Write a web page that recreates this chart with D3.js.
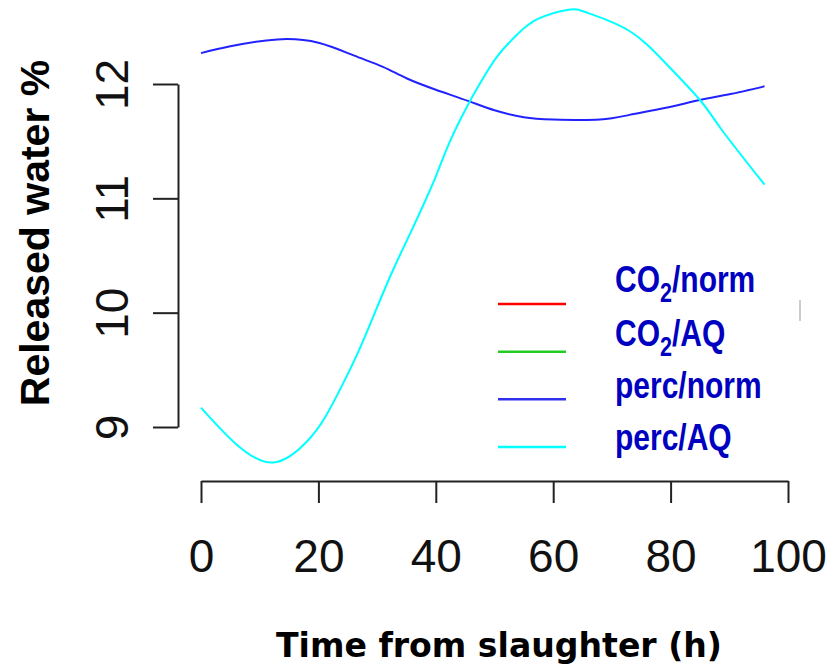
<!DOCTYPE html>
<html>
<head>
<meta charset="utf-8">
<script src="https://cdn.jsdelivr.net/npm/d3@7"></script>
<style>
  body { margin: 0; background: #fff; }
  svg { display: block; }
</style>
</head>
<body>
<div id="chart"></div>
<script>
// time after slaughter (h)
var hours = [0, 5, 13, 20, 26, 31, 35, 40, 45.6, 50, 55, 60, 68, 73, 79, 85, 90, 96];
var percNorm = [12.27, 12.33, 12.39, 12.36, 12.25, 12.15, 12.05, 11.95, 11.85, 11.77, 11.71, 11.69, 11.69, 11.73, 11.79, 11.86, 11.91, 11.98];

var hoursAQ = [0, 6, 12.3, 17.8, 21.2, 24.3, 26.9, 29.7, 32.6, 35.7, 38.3, 40.3, 42.6, 45.6, 47.7, 50.6, 54, 57.4, 62.6, 66, 72.8, 79, 85, 88.7, 96];
var percAQ = [9.17, 8.85, 8.69, 8.86, 9.09, 9.39, 9.67, 10.01, 10.36, 10.70, 10.99, 11.23, 11.52, 11.83, 12.02, 12.25, 12.44, 12.57, 12.65, 12.62, 12.47, 12.19, 11.86, 11.6, 11.12];

var xTicks = [0, 20, 40, 60, 80, 100];
var yTicks = [9, 10, 11, 12];

var legendNames = ["CO2/norm", "CO2/AQ", "perc/norm", "perc/AQ"];
var legendColors = ["#ff0000", "#22cc22", "#3030ee", "#00ffff"];

var width = 826, height = 667;

var svg = d3.select("#chart").append("svg")
    .attr("width", width)
    .attr("height", height);

var x = d3.scaleLinear().domain([0, 100]).range([201, 788]);
var y = d3.scaleLinear().domain([9, 12]).range([427, 84]);

// y axis, R style
var yAxis = svg.append("g")
    .attr("transform", "translate(178,0)")
    .call(d3.axisLeft(y).tickValues(yTicks).tickSize(25).tickSizeOuter(0).tickFormat(d3.format("d")));
yAxis.select(".domain").attr("stroke", "#222").attr("stroke-width", 2);
yAxis.selectAll(".tick line").attr("stroke", "#222").attr("stroke-width", 2);
yAxis.selectAll(".tick text")
    .attr("x", 0).attr("y", 0).attr("dy", 0)
    .attr("transform", "translate(-50,0) rotate(-90)")
    .attr("text-anchor", "middle")
    .attr("font-family", "Liberation Sans, Arial, sans-serif")
    .attr("font-size", 46)
    .attr("fill", "#111");

// x axis
var xAxis = svg.append("g")
    .attr("transform", "translate(0,481)")
    .call(d3.axisBottom(x).tickValues(xTicks).tickSize(22).tickSizeOuter(0).tickFormat(d3.format("d")));
xAxis.select(".domain").attr("stroke", "#222").attr("stroke-width", 2);
xAxis.selectAll(".tick line").attr("stroke", "#222").attr("stroke-width", 2);
xAxis.selectAll(".tick text")
    .attr("y", 91).attr("dy", 0)
    .attr("font-family", "Liberation Sans, Arial, sans-serif")
    .attr("font-size", 46)
    .attr("fill", "#111");

// curves
var line = d3.line().curve(d3.curveNatural);

svg.append("path")
    .attr("d", line(hours.map(function(h, i) { return [x(h), y(percNorm[i])]; })))
    .attr("fill", "none")
    .attr("stroke", "#2222ff")
    .attr("stroke-width", 2);

svg.append("path")
    .attr("d", line(hoursAQ.map(function(h, i) { return [x(h), y(percAQ[i])]; })))
    .attr("fill", "none")
    .attr("stroke", "#00ffff")
    .attr("stroke-width", 2);

// legend
var legY = d3.scalePoint().domain(legendNames).range([304, 447]);
var textY = [292, 346, 398, 450];

var leg = svg.append("g");
leg.selectAll("line")
    .data(legendNames)
    .enter().append("line")
    .attr("x1", 498).attr("x2", 566)
    .attr("y1", function(d) { return legY(d); })
    .attr("y2", function(d) { return legY(d); })
    .attr("stroke", function(d, i) { return legendColors[i]; })
    .attr("stroke-width", 2.5);

// legend text is a tall, narrow bold face
var labels = leg.selectAll("text")
    .data(legendNames)
    .enter().append("text")
    .attr("transform", function(d, i) { return "translate(615," + textY[i] + ") scale(0.8,1)"; })
    .attr("font-family", "Liberation Sans, Arial, sans-serif")
    .attr("font-weight", "bold")
    .attr("font-size", 37.5)
    .attr("fill", "#0000c0");

labels.each(function(d) {
  var t = d3.select(this);
  if (d.indexOf("CO2") === 0) {
    t.append("tspan").text("CO");
    t.append("tspan").attr("dy", 10).attr("font-size", 27).text("2");
    t.append("tspan").attr("dy", -10).text(d.slice(3));
  } else {
    t.text(d);
  }
});

// small stray mark at the right of the legend
svg.append("line")
    .attr("x1", 800).attr("x2", 800)
    .attr("y1", 300).attr("y2", 321)
    .attr("stroke", "#bbb").attr("stroke-width", 1.5);

// axis titles
svg.append("text")
    .attr("transform", "translate(49,233) rotate(-90)")
    .attr("text-anchor", "middle")
    .attr("font-family", "Liberation Sans, Arial, sans-serif")
    .attr("font-weight", "bold")
    .attr("font-size", 41)
    .attr("fill", "#000")
    .text("Released water %");

svg.append("text")
    .attr("x", 276)
    .attr("y", 657)
    .attr("textLength", 446)
    .attr("lengthAdjust", "spacingAndGlyphs")
    .attr("font-family", "DejaVu Sans, Verdana, sans-serif")
    .attr("font-weight", "bold")
    .attr("font-size", 34)
    .attr("fill", "#000")
    .text("Time from slaughter (h)");
</script>
</body>
</html>
